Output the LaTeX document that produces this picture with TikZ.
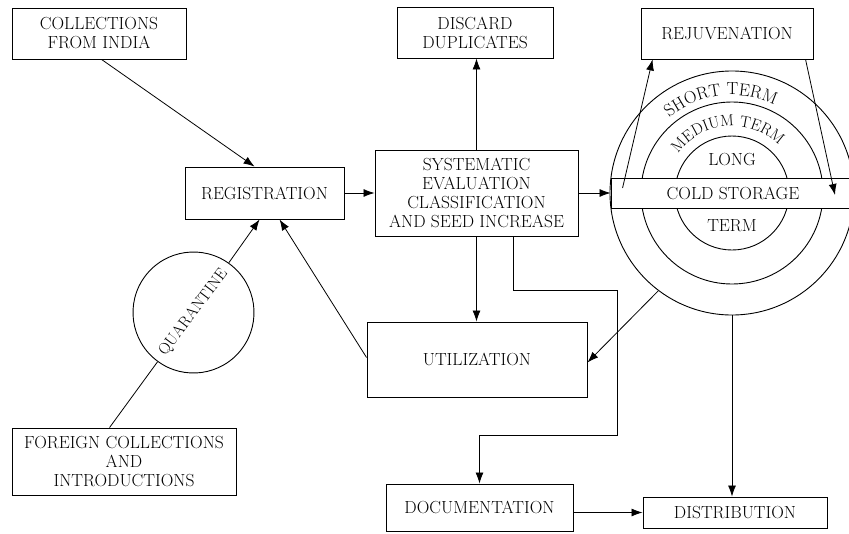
\documentclass[tikz,border=0pt]{standalone}
\usepackage{fontspec}
\usetikzlibrary{arrows.meta,decorations.text,calc}
\newcommand{\lbl}{\fontsize{17.5}{19}\selectfont}
\newcommand{\lblsm}{\fontsize{16}{19}\selectfont}
\begin{document}
\begin{tikzpicture}[x=1pt,y=1pt,
  box/.style={draw, line width=0.9pt, align=center, inner sep=0pt, font=\lbl, fill=white},
  ring/.style={draw, circle, line width=0.9pt, inner sep=0pt},
  arr/.style={line width=0.8pt, -{Latex[length=11pt,width=8pt]}},
  ln/.style={line width=0.8pt}]
\useasboundingbox (0,0) rectangle (849,-533);
\clip (0,0) rectangle (849,-533);

% boxes
\node[box, minimum width=174pt, minimum height=51pt] (india) at (99,-33.5) {COLLECTIONS\\FROM INDIA};
\node[box, minimum width=156pt, minimum height=51pt] (discard) at (475,-32.5) {DISCARD\\DUPLICATES};
\node[box, minimum width=172pt, minimum height=51pt] (rejuv) at (727,-33.5) {REJUVENATION};
\node[box, minimum width=159pt, minimum height=52pt] (reg) at (264.5,-193) {REGISTRATION};
\node[box, minimum width=203pt, minimum height=86pt] (sys) at (476.5,-193) {SYSTEMATIC\\EVALUATION\\CLASSIFICATION\\AND SEED INCREASE};
\node[box, minimum width=220pt, minimum height=75pt] (util) at (477,-359.5) {UTILIZATION};
\node[box, minimum width=187pt, minimum height=47pt] (doc) at (479.5,-507.5) {DOCUMENTATION};
\node[box, minimum width=184pt, minimum height=31pt] (dist) at (735,-512.5) {DISTRIBUTION};
\node[box, minimum width=224pt, minimum height=67pt] (foreign) at (124,-461.5) {FOREIGN COLLECTIONS\\AND\\INTRODUCTIONS};

% quarantine
\node[ring, fill=white, minimum size=121pt, rotate=53, font=\lblsm] (quar) at (193.5,-312.5) {QUARANTINE};

% storage rings
\node[ring, minimum size=244pt] (outer) at (732,-193) {};
\node[ring, minimum size=182pt] (middle) at (732,-193) {};
\node[ring, minimum size=114pt] (inner) at (732,-193) {};
\node[font=\lbl] (long) at (732,-160) {LONG};
\node[font=\lbl] (term) at (732,-226) {TERM};
\path[decorate, decoration={text along path, text={|\lbl|SHORT TERM}, text align=center}]
  (outer.center) ++(160:98) arc[start angle=160, end angle=34, radius=98];
\path[decorate, decoration={text along path, text={|\lblsm|MEDIUM TERM}, text align=center}]
  (outer.center) ++(160:67) arc[start angle=160, end angle=29, radius=67];
\node[box, minimum width=244pt, minimum height=30pt] (cold) at (733,-193) {COLD STORAGE};

% connectors
\draw[arr] ([xshift=90pt]india.south west) -- ([xshift=70pt]reg.north west);
\coordinate (fa) at ([xshift=98pt]foreign.north west);
\coordinate (ra) at ([xshift=75pt]reg.south west);
\draw[ln] (fa) -- (quar);
\draw[arr] (quar) -- (ra);
\draw[arr] ([yshift=2pt]util.west) -- ([xshift=95pt]reg.south west);
\draw[arr] (reg) -- (sys);
\draw[arr] (sys.north) -- (sys.north |- discard.south);
\draw[arr] (sys.south) -- (sys.south |- util.north);
\draw[arr] (sys) -- (cold);
\draw[arr] ([xshift=36.5pt]sys.south) -- ++(0,-54) -- ++(104,0) -- ++(0,-145) -| (doc.north);
\draw[arr] (outer.south) -- (outer.south |- dist.north);
\draw[arr] (outer.233) -- ([yshift=-3pt]util.east);
\draw[arr] (doc.east |- dist.west) -- (dist.west);
\coordinate (rjA) at ([xshift=12pt,yshift=5pt]cold.west);
\draw[arr] (rjA) -- ([xshift=12pt]rejuv.south west);
\draw[arr] ([xshift=165pt]rejuv.south west) -- ([xshift=102pt,yshift=-2pt]cold.center);
\end{tikzpicture}
\end{document}
